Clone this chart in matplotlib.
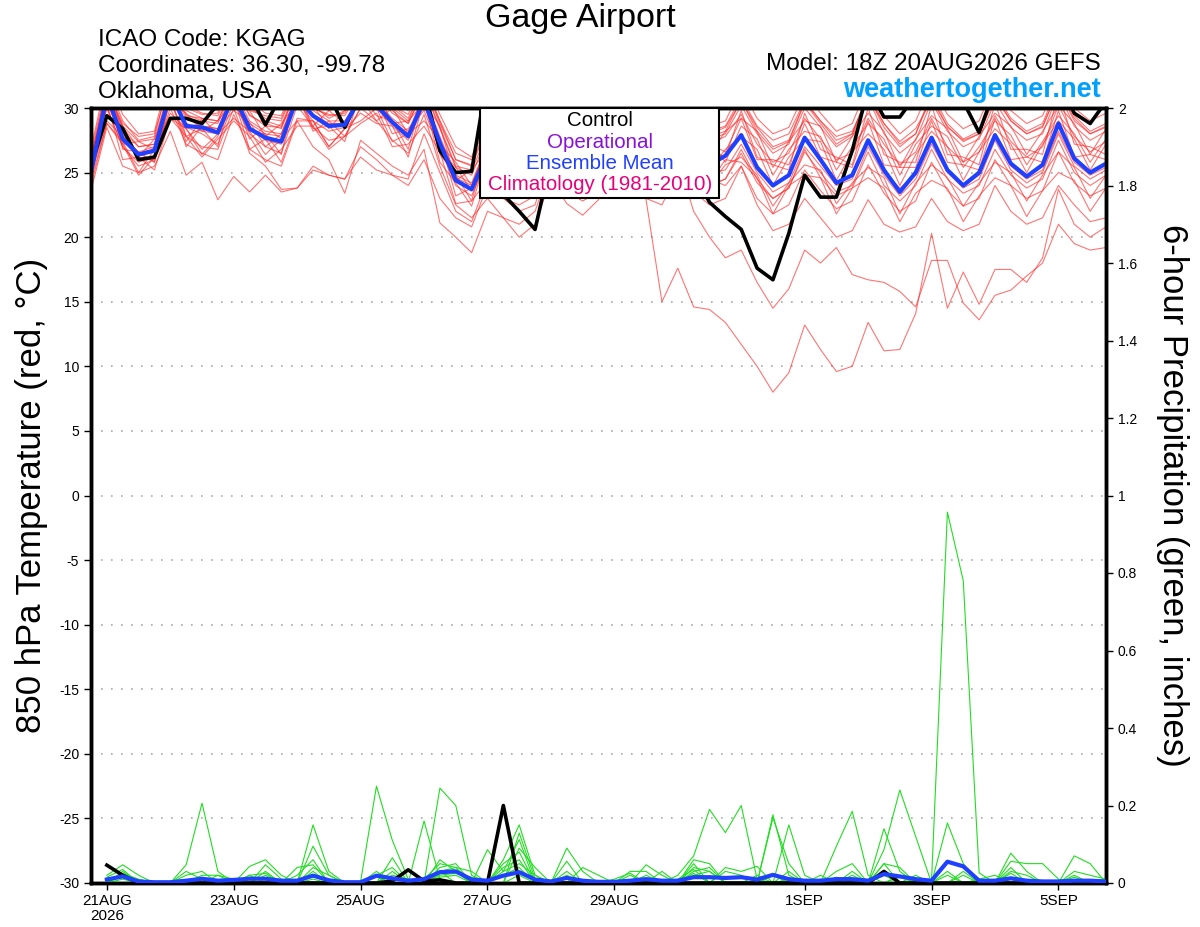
import numpy as np
import matplotlib
matplotlib.use("Agg")
import matplotlib.pyplot as plt
from matplotlib.patches import Rectangle

plt.rcParams['font.family'] = ['Liberation Sans', 'DejaVu Sans']

# time axis: 6-hourly from 18Z 20AUG (days after 21AUG 00Z)
days = np.arange(65) * 0.25 - 0.25
tick_pos = [0, 2, 4, 6, 8, 11, 13, 15]
tick_lab = ['21AUG\n2026', '23AUG', '25AUG', '27AUG', '29AUG', '1SEP', '3SEP', '5SEP']

# 850 hPa temperature (C)
t_mean = [25.0, 31.0, 27.6, 26.4, 26.7, 31.2, 28.6, 28.5, 28.1, 31.0, 28.4, 27.7, 27.4, 30.8, 29.4, 28.6,
          28.7, 30.8, 30.2, 28.9, 27.8, 30.6, 27.3, 24.4, 23.7, 26.5, 25.5, 24.8, 25.0, 28.5, 26.5, 25.5,
          26.0, 30.0, 27.5, 26.0, 25.5, 28.0, 26.5, 25.6, 26.3, 27.9, 25.4, 24.0, 24.8, 27.7, 26.0, 24.2,
          24.8, 27.5, 25.2, 23.5, 25.0, 27.7, 25.2, 24.0, 25.0, 27.9, 25.7, 24.7, 25.6, 28.8, 26.1, 25.0, 25.7]
t_ctrl = [25.5, 29.4, 28.4, 26.0, 26.2, 29.2, 29.2, 28.8, 30.3, 31.5, 31.0, 28.7, 31.0, 31.5, 30.5, 31.0,
          28.5, 31.0, 31.5, 31.0, 30.5, 31.5, 26.7, 25.0, 25.1, 32.5, 23.3, 22.0, 20.6, 26.0, 27.0, 26.0,
          26.5, 29.5, 27.5, 26.0, 25.5, 27.5, 25.0, 22.7, 21.6, 20.6, 17.6, 16.7, 20.3, 24.8, 23.1, 23.1,
          26.7, 31.5, 29.3, 29.3, 31.0, 32.0, 31.0, 30.5, 28.1, 31.5, 31.0, 30.5, 31.0, 32.0, 29.6, 28.8, 30.5]

r01 = [26.5, 32.0, 29.0, 27.5, 27.8, 32.5, 30.0, 29.5, 29.6, 32.4, 30.0, 29.2, 29.0, 32.0, 30.5, 29.8, 30.2, 32.2, 31.5, 30.2, 29.5, 32.0, 29.0, 26.5, 26.0, 29.0, 27.5, 26.8, 27.2, 31.0, 29.0, 28.0, 28.5, 32.0, 30.0, 28.5, 28.0, 30.5, 29.0, 28.0, 28.5, 30.5, 28.5, 27.0, 27.5, 30.5, 29.0, 27.5, 28.0, 31.0, 28.5, 27.0, 28.0, 31.0, 28.5, 27.5, 28.0, 31.0, 29.0, 28.0, 28.5, 31.5, 29.0, 28.0, 28.5]
r02 = [25.8, 31.5, 28.5, 27.0, 27.2, 31.8, 29.5, 29.0, 28.8, 31.5, 29.5, 28.6, 28.5, 31.5, 30.0, 29.5, 29.4, 31.5, 31.0, 29.8, 28.8, 31.5, 28.5, 25.5, 25.2, 28.0, 27.0, 26.0, 26.5, 30.0, 28.0, 27.2, 27.8, 31.5, 29.5, 28.2, 27.5, 30.0, 28.4, 27.6, 28.0, 30.2, 28.0, 26.5, 27.2, 30.0, 28.5, 27.0, 27.8, 30.8, 28.0, 26.5, 27.5, 30.5, 28.2, 27.0, 27.6, 30.5, 28.5, 27.5, 28.0, 31.2, 28.6, 27.5, 28.2]
r03 = [25.2, 31.6, 28.6, 26.2, 27.6, 30.4, 29.6, 28.2, 29.0, 30.6, 29.8, 27.8, 28.8, 30.4, 30.2, 28.4, 29.8, 30.6, 31.4, 28.8, 29.0, 30.4, 28.6, 24.4, 25.2, 26.8, 27.0, 25.2, 26.6, 28.8, 28.0, 26.2, 27.8, 30.4, 29.6, 27.2, 27.8, 29.2, 28.6, 26.4, 28.2, 29.2, 28.2, 25.4, 27.4, 29.0, 28.6, 25.8, 27.8, 29.6, 28.2, 25.4, 27.6, 29.4, 28.4, 25.8, 27.8, 29.6, 28.6, 26.4, 28.2, 30.2, 28.8, 26.4, 28.4]
r04 = [26.0, 31.8, 28.2, 26.2, 26.0, 32.0, 29.8, 29.2, 29.0, 32.0, 30.2, 29.0, 28.6, 31.8, 30.2, 29.2, 29.8, 31.8, 31.2, 30.0, 29.0, 31.8, 28.8, 26.0, 25.5, 28.5, 27.2, 26.5, 26.8, 30.5, 28.5, 27.5, 28.0, 31.8, 29.8, 28.5, 27.8, 30.2, 28.8, 27.8, 28.2, 30.6, 28.2, 26.8, 27.4, 30.4, 28.8, 27.2, 28.0, 31.2, 28.8, 27.2, 28.0, 31.2, 28.8, 27.6, 28.2, 31.2, 29.2, 28.2, 28.8, 31.8, 29.4, 28.2, 28.8]
r05 = [24.8, 29.0, 27.8, 26.5, 25.8, 30.8, 27.0, 28.6, 28.4, 29.8, 28.9, 27.0, 28.0, 31.0, 28.2, 29.0, 27.8, 30.0, 30.6, 28.0, 28.4, 29.8, 26.8, 25.4, 23.6, 27.5, 25.4, 26.0, 25.0, 29.6, 26.4, 27.0, 26.0, 30.8, 27.8, 28.2, 26.0, 29.6, 26.8, 27.4, 25.8, 28.6, 27.6, 24.8, 26.8, 28.2, 27.8, 25.2, 27.0, 28.8, 27.6, 24.8, 27.2, 28.6, 27.8, 25.4, 27.0, 29.0, 27.9, 25.6, 27.4, 29.4, 28.0, 25.8, 27.6]
r06 = [24.5, 30.4, 26.0, 26.2, 25.2, 29.2, 28.4, 26.4, 27.8, 30.8, 26.8, 27.6, 25.8, 29.2, 29.0, 27.0, 28.4, 29.6, 28.8, 28.6, 26.2, 30.6, 25.8, 24.2, 22.4, 26.6, 24.6, 24.8, 24.0, 28.8, 25.6, 25.8, 25.2, 28.8, 28.2, 25.4, 26.6, 27.8, 27.4, 25.2, 26.8, 27.8, 26.8, 24.0, 26.2, 27.6, 27.4, 24.4, 26.6, 28.0, 26.8, 24.0, 26.4, 28.2, 27.0, 24.4, 26.6, 28.4, 27.2, 25.0, 27.2, 29.0, 27.6, 25.2, 27.2]
r07 = [23.6, 28.5, 25.5, 25.0, 25.5, 28.2, 24.8, 25.8, 22.9, 24.7, 23.5, 24.8, 23.5, 23.8, 25.2, 24.8, 24.5, 26.2, 25.2, 24.8, 24.0, 26.0, 23.0, 21.5, 20.8, 24.0, 23.0, 22.5, 23.2, 27.0, 25.0, 24.2, 24.8, 28.5, 26.5, 25.5, 25.0, 27.5, 26.0, 25.0, 25.2, 27.2, 25.0, 23.5, 24.2, 27.0, 25.5, 24.0, 24.5, 27.5, 25.0, 23.8, 24.8, 27.5, 25.2, 24.0, 24.8, 27.8, 25.5, 24.5, 25.2, 28.2, 25.8, 24.8, 25.4]
r08 = [25.5, 30.0, 27.0, 25.8, 26.2, 30.0, 27.2, 26.5, 26.0, 29.5, 26.8, 26.0, 25.5, 29.0, 27.0, 26.0, 23.4, 27.5, 26.5, 25.5, 24.8, 26.8, 21.1, 20.0, 18.8, 22.0, 21.5, 21.0, 22.0, 25.5, 23.5, 22.8, 23.5, 27.0, 25.0, 24.0, 23.5, 26.5, 25.0, 24.0, 24.5, 26.8, 24.5, 23.0, 23.8, 26.6, 25.0, 23.5, 24.0, 27.0, 24.8, 23.2, 24.5, 27.2, 25.0, 23.8, 24.5, 27.5, 25.2, 24.2, 25.0, 28.0, 25.5, 24.5, 25.2]
r09 = [26.2, 31.0, 28.0, 26.5, 26.8, 31.0, 28.5, 28.0, 27.2, 30.5, 28.0, 27.0, 26.5, 30.2, 28.5, 27.5, 27.8, 30.0, 29.0, 27.5, 26.5, 29.5, 25.5, 22.5, 21.5, 23.0, 21.5, 20.0, 21.0, 24.5, 22.6, 21.7, 22.9, 26.0, 24.0, 23.0, 22.5, 25.0, 23.5, 22.5, 23.0, 25.5, 23.0, 21.8, 22.5, 25.2, 23.6, 22.2, 22.8, 25.6, 23.4, 22.0, 22.8, 25.8, 23.6, 22.4, 23.0, 26.0, 24.0, 23.0, 23.6, 26.6, 24.2, 23.2, 23.8]
r10 = [25.0, 30.5, 27.5, 26.5, 26.8, 31.0, 28.8, 28.2, 28.0, 31.0, 28.5, 27.5, 27.2, 30.5, 29.0, 28.2, 28.5, 30.8, 30.0, 28.6, 27.5, 30.2, 27.0, 24.0, 23.2, 26.0, 25.0, 24.0, 24.5, 28.0, 26.0, 25.0, 25.5, 29.0, 26.5, 22.9, 15.0, 17.6, 14.6, 14.4, 13.4, 11.7, 10.0, 8.0, 9.5, 13.2, 11.3, 9.6, 10.0, 13.4, 11.2, 11.3, 14.1, 20.3, 14.5, 17.3, 14.8, 17.5, 17.5, 16.5, 18.4, 23.7, 21.0, 20.0, 20.8]
r11 = [25.8, 31.2, 28.2, 27.0, 27.2, 31.5, 29.2, 28.6, 28.4, 31.4, 29.0, 28.2, 28.0, 31.2, 29.8, 29.0, 29.0, 31.0, 30.5, 29.2, 28.2, 31.0, 27.8, 24.8, 24.2, 27.2, 26.2, 25.5, 25.8, 29.2, 27.0, 26.0, 26.5, 30.0, 28.0, 26.5, 24.0, 26.0, 22.0, 20.0, 18.4, 19.0, 16.5, 14.5, 16.0, 19.0, 18.0, 19.2, 17.1, 16.7, 16.5, 15.8, 14.6, 18.2, 18.2, 14.9, 13.6, 15.5, 15.9, 17.0, 18.0, 21.0, 19.5, 19.0, 19.2]
r12 = [25.4, 30.8, 27.8, 26.6, 27.0, 31.2, 28.8, 28.4, 28.2, 31.0, 28.8, 28.0, 27.8, 31.0, 29.5, 28.8, 28.8, 31.0, 30.4, 29.0, 28.0, 30.8, 27.5, 24.6, 24.0, 27.0, 26.0, 25.2, 25.5, 29.0, 26.8, 25.8, 26.2, 29.8, 27.5, 26.2, 25.8, 28.2, 26.0, 24.5, 24.0, 25.5, 22.5, 20.5, 21.0, 23.0, 21.5, 20.0, 20.5, 22.9, 21.0, 20.4, 20.8, 23.0, 21.2, 20.5, 21.0, 24.0, 22.0, 21.0, 21.5, 24.0, 22.5, 21.2, 21.5]
r13 = [24.0, 28.8, 27.2, 24.8, 26.2, 29.2, 27.8, 26.2, 27.6, 29.0, 27.8, 25.8, 26.8, 28.6, 28.6, 26.8, 27.8, 28.8, 29.6, 27.0, 27.2, 28.6, 26.6, 22.6, 22.8, 24.4, 24.8, 23.0, 24.4, 27.0, 26.2, 24.0, 25.6, 28.2, 27.2, 24.4, 25.2, 26.4, 26.2, 24.0, 25.6, 26.2, 24.8, 22.4, 24.2, 25.6, 25.2, 22.6, 24.2, 25.4, 24.6, 21.8, 24.2, 25.6, 24.6, 22.4, 24.2, 25.8, 25.0, 22.8, 24.8, 26.6, 25.4, 23.0, 24.8]
r14 = [25.6, 31.0, 28.6, 27.4, 27.6, 31.6, 29.4, 29.2, 29.0, 31.8, 29.4, 28.8, 28.4, 31.6, 30.0, 29.4, 29.6, 31.6, 31.0, 29.6, 28.8, 31.4, 28.4, 25.4, 24.8, 27.8, 26.8, 26.2, 26.4, 30.2, 28.2, 27.2, 27.6, 31.2, 29.2, 28.0, 27.5, 29.8, 28.2, 27.2, 27.8, 29.5, 27.2, 25.8, 26.5, 29.2, 27.6, 26.0, 26.5, 29.2, 27.2, 25.6, 26.6, 29.2, 27.0, 25.8, 26.6, 29.4, 27.4, 26.2, 27.0, 30.2, 27.8, 26.6, 27.4]
r15 = [26.8, 32.5, 29.5, 28.0, 28.2, 33.0, 30.5, 30.0, 29.8, 32.8, 30.5, 29.6, 29.4, 32.5, 31.0, 30.2, 30.5, 32.5, 32.0, 30.5, 29.8, 32.2, 29.5, 27.0, 26.2, 29.5, 28.2, 27.5, 28.0, 31.5, 29.5, 28.5, 29.0, 32.5, 30.5, 29.2, 28.8, 31.2, 29.5, 28.6, 29.0, 31.5, 29.2, 28.0, 28.5, 31.2, 29.6, 28.2, 28.8, 31.8, 29.4, 28.0, 29.0, 31.8, 29.5, 28.4, 29.0, 32.0, 29.8, 28.8, 29.4, 32.2, 30.0, 29.0, 29.6]
r16 = [25.2, 30.6, 27.2, 27.4, 26.8, 30.8, 27.4, 29.2, 28.0, 31.0, 27.6, 28.6, 27.6, 30.8, 28.6, 29.8, 28.8, 30.8, 29.0, 30.0, 28.0, 30.6, 27.2, 25.8, 24.0, 27.4, 25.8, 26.4, 25.6, 29.2, 26.6, 27.0, 26.2, 29.8, 27.4, 27.6, 26.0, 29.4, 27.0, 27.2, 26.6, 29.2, 26.0, 26.0, 25.6, 28.8, 26.2, 25.8, 25.4, 29.0, 25.6, 25.4, 25.4, 29.0, 25.8, 25.6, 25.2, 29.2, 26.0, 26.2, 25.8, 29.8, 26.2, 26.4, 26.0]
r17 = [25.0, 30.0, 27.0, 25.5, 26.0, 30.5, 27.8, 27.0, 26.8, 30.0, 26.5, 25.5, 23.7, 23.8, 25.5, 24.8, 24.5, 27.0, 26.0, 24.8, 24.5, 28.0, 25.0, 22.0, 21.2, 24.5, 23.0, 22.0, 22.5, 26.5, 24.5, 23.5, 24.2, 28.0, 26.0, 24.5, 24.0, 26.8, 25.0, 24.0, 24.5, 26.5, 24.2, 23.0, 23.8, 26.8, 24.6, 23.2, 23.8, 26.6, 24.0, 22.8, 24.0, 26.8, 24.5, 23.4, 24.0, 26.8, 24.8, 23.8, 24.5, 27.5, 25.0, 24.0, 24.8]
r18 = [26.2, 31.5, 28.8, 27.8, 28.0, 32.2, 30.2, 29.6, 29.4, 32.2, 29.8, 29.4, 29.2, 32.0, 30.6, 30.0, 30.0, 32.0, 31.6, 30.2, 29.2, 31.8, 29.0, 26.0, 25.6, 28.8, 27.8, 27.0, 27.5, 31.0, 29.2, 28.2, 28.6, 32.0, 30.0, 28.8, 28.4, 30.8, 29.2, 28.2, 28.6, 30.8, 28.6, 27.5, 28.0, 30.6, 29.0, 27.8, 28.2, 30.8, 28.8, 27.4, 28.4, 30.6, 28.6, 27.4, 28.0, 30.8, 29.0, 28.0, 28.6, 31.4, 29.2, 28.0, 28.6]
r19 = [24.4, 28.8, 27.4, 25.0, 26.8, 29.6, 28.4, 26.8, 28.0, 29.2, 28.2, 26.4, 27.6, 29.0, 29.0, 27.0, 28.4, 29.0, 30.0, 27.4, 28.0, 29.0, 27.6, 23.2, 23.8, 25.4, 25.8, 23.8, 25.6, 27.2, 26.8, 24.6, 26.4, 28.2, 28.0, 25.2, 26.0, 26.8, 26.6, 24.2, 26.0, 25.8, 24.6, 21.8, 24.0, 24.8, 24.6, 21.8, 23.8, 24.6, 23.8, 21.2, 23.4, 24.4, 23.8, 21.2, 23.2, 24.6, 24.0, 21.6, 23.6, 25.0, 24.4, 22.0, 23.8]
r20 = [25.5, 31.8, 26.8, 26.6, 25.8, 31.8, 27.8, 28.4, 27.0, 31.6, 28.2, 28.0, 26.4, 31.6, 28.4, 28.6, 27.4, 31.2, 29.4, 29.0, 26.8, 31.2, 26.4, 24.8, 22.8, 27.2, 24.8, 25.4, 24.6, 29.4, 26.2, 26.4, 25.4, 30.8, 27.6, 27.4, 25.6, 29.6, 26.6, 26.8, 26.2, 29.8, 26.2, 25.6, 25.2, 29.6, 26.8, 26.2, 25.6, 30.0, 26.4, 25.8, 25.8, 30.2, 26.4, 26.2, 25.6, 30.4, 26.8, 26.8, 26.4, 31.2, 27.2, 27.0, 26.4]
red_members = [r01, r02, r03, r04, r05, r06, r07, r08, r09, r10,
               r11, r12, r13, r14, r15, r16, r17, r18, r19, r20]

# 6-hour precipitation (inches), valid from 21AUG 00Z on
p_mean = [.009, .017, .004, .002, .002, .006, .011, .006, .008, .011, .011, .006, .006, .019, .007, .002,
          .002, .019, .012, .006, .010, .028, .030, .009, .006, .019, .028, .009, .004, .013, .006, .003,
          .003, .006, .010, .006, .006, .015, .015, .013, .015, .009, .021, .010, .006, .006, .010, .010,
          .006, .023, .017, .010, .006, .055, .043, .006, .006, .012, .006, .004, .004, .006, .006, .004]
p_ctrl = [.046, .020, 0, 0, 0, 0, 0, 0, 0, 0, 0, 0, 0, 0, 0, 0,
          0, 0, .005, .034, .005, .008, 0, 0, 0, .200, 0, 0, 0, 0, 0, 0,
          0, 0, 0, 0, 0, 0, 0, 0, 0, 0, 0, 0, 0, 0, 0, 0,
          0, .030, 0, 0, 0, 0, 0, 0, 0, 0, 0, 0, 0, 0, 0, 0]

g01 = [.02, .047, .02, 0, 0, .047, .206, .03, 0, 0, 0, 0, 0, 0, 0, 0,
       0, 0, 0, 0, 0, .06, .03, 0, 0, 0, 0, 0, 0, 0, 0, 0,
       0, 0, 0, 0, .02, .07, .19, .13, .20, .01, 0, 0, 0, 0, 0, 0,
       0, 0, 0, 0, 0, 0, 0, 0, 0, .077, .03, 0, 0, 0, 0, 0]
g02 = [0, .03, 0, 0, 0, 0, 0, 0, 0, 0, 0, 0, 0, .15, .03, 0,
       .004, .25, .11, .01, 0, 0, 0, 0, 0, .06, .15, .02, 0, 0, 0, 0,
       0, 0, 0, 0, 0, 0, 0, 0, 0, 0, .176, .02, 0, 0, 0, 0,
       0, 0, 0, 0, .008, .957, .78, .026, 0, 0, 0, 0, 0, 0, 0, 0]
g03 = [0, 0, 0, 0, 0, 0, 0, 0, 0, .043, .06, .02, 0, .095, .02, 0,
       0, 0, 0, 0, .16, .01, 0, 0, 0, 0, 0, 0, 0, .09, .03, 0,
       0, 0, 0, 0, 0, 0, 0, 0, 0, 0, 0, .15, .02, 0, 0, 0,
       0, .086, .24, .12, 0, 0, 0, 0, 0, 0, 0, 0, 0, 0, 0, 0]
g04 = [0, 0, 0, 0, 0, 0, 0, 0, 0, 0, 0, 0, .04, .047, 0, 0,
       0, 0, .065, 0, 0, .245, .20, .02, 0, 0, .129, .01, 0, 0, 0, 0,
       0, 0, 0, 0, 0, 0, 0, 0, 0, 0, 0, 0, 0, 0, .095, .185,
       .02, 0, 0, 0, 0, 0, 0, 0, 0, 0, 0, 0, 0, .07, .05, 0]
g05 = [.015, .035, 0, 0, 0, 0, 0, 0, 0, 0, .047, .01, 0, 0, 0, 0,
       0, 0, 0, 0, 0, 0, 0, 0, .086, .03, .112, 0, 0, .056, 0, 0,
       0, 0, 0, 0, 0, 0, 0, 0, 0, 0, .168, .05, 0, 0, 0, 0,
       0, .14, .03, 0, 0, .155, .05, 0, 0, 0, 0, 0, 0, 0, 0, 0]
g06 = [0, 0, 0, 0, 0, .02, .03, 0, 0, .02, 0, 0, 0, .03, 0, 0,
       0, .03, 0, 0, 0, .04, .05, 0, 0, .04, .06, 0, 0, 0, 0, 0,
       0, 0, .047, .02, 0, .06, .05, 0, 0, 0, 0, 0, 0, 0, 0, 0,
       0, .05, .04, 0, 0, 0, 0, 0, 0, .056, .05, .05, .01, 0, 0, 0]
g07 = [0, .025, .01, 0, 0, 0, 0, .02, .01, 0, .03, 0, 0, .04, .02, 0,
       0, 0, .03, 0, 0, .03, .04, .03, 0, 0, .09, .04, 0, 0, .04, .02,
       0, .03, .03, 0, 0, .05, 0, .04, .03, .043, 0, 0, 0, 0, .03, .05,
       0, 0, 0, .02, 0, 0, .03, 0, 0, .04, 0, 0, 0, .02, 0, 0]
g08 = [0, .02, 0, 0, 0, .03, .01, 0, 0, .02, .025, 0, .02, .06, 0, 0,
       0, .02, .04, 0, .01, .05, .04, 0, 0, .05, .08, 0, 0, .03, 0, 0,
       .01, .025, 0, .03, 0, .03, .04, 0, 0, .02, 0, .03, 0, .02, 0, .03,
       0, .05, 0, 0, 0, .02, 0, 0, 0, .03, .02, 0, 0, 0, 0, 0]
g09 = [.01, .015, 0, 0, 0, 0, .015, 0, 0, 0, .02, 0, 0, .02, 0, 0,
       0, .015, 0, 0, 0, .025, .03, 0, 0, .02, .04, 0, 0, .02, 0, 0,
       0, 0, .02, 0, .01, .035, 0, 0, 0, 0, .02, 0, 0, 0, .015, 0,
       0, 0, .02, 0, 0, 0, .02, 0, 0, .025, 0, 0, 0, .015, 0, 0]
g10 = [0, 0, .005, 0, 0, 0, 0, 0, 0, 0, 0, 0, 0, .01, 0, 0,
       0, 0, 0, 0, 0, .015, .02, 0, 0, 0, .02, 0, 0, 0, 0, 0,
       0, 0, 0, 0, 0, .02, .03, 0, 0, 0, 0, 0, 0, 0, 0, 0,
       0, .02, 0, 0, 0, 0, 0, 0, 0, .01, 0, 0, 0, 0, 0, 0]
g11 = [0, .01, 0, 0, 0, 0, .02, .02, 0, .015, .01, 0, 0, 0, 0, 0,
       0, 0, .02, .01, 0, .03, 0, 0, 0, .03, .05, .02, 0, 0, 0, 0,
       0, .02, 0, 0, 0, .025, 0, .03, .02, 0, 0, 0, 0, .01, 0, 0,
       0, 0, .015, 0, 0, 0, 0, .01, .02, 0, 0, 0, 0, .03, .02, .01]
g12 = [.005, 0, 0, 0, 0, 0, 0, 0, 0, 0, 0, 0, 0, .02, .01, 0,
       0, 0, 0, 0, 0, .02, .025, .015, 0, 0, 0, 0, 0, .015, 0, 0,
       0, 0, 0, 0, 0, .04, .03, 0, 0, 0, 0, .01, 0, 0, 0, .02,
       0, .03, 0, 0, 0, .03, 0, 0, 0, .015, 0, 0, 0, 0, 0, 0]
green_members = [g01, g02, g03, g04, g05, g06, g07, g08, g09, g10, g11, g12]

W, H = 1200, 927
fig = plt.figure(figsize=(12, 9.27), dpi=100)
ax = fig.add_axes([91 / W, 44 / H, 1015 / W, 775 / H])
ax2 = ax.twinx()

for m in red_members:
    ax.plot(days, m, color='#ff2a2a', lw=0.8, alpha=0.65, zorder=2)
ax.plot(days, t_ctrl, color='black', lw=2.6, zorder=4)
ax.plot(days, t_mean, color='#2040ff', lw=3.0, zorder=5)

pdays = days[1:]
for g in green_members:
    ax2.plot(pdays, g, color='#22dd22', lw=0.8, zorder=2)
ax2.plot(pdays, p_ctrl, color='black', lw=2.6, zorder=4)
ax2.plot(pdays, p_mean, color='#2040ff', lw=3.0, zorder=5)

ax.set_xlim(days[0], days[-1])
ax.set_ylim(-30, 30)
ax.set_yticks(np.arange(-30, 31, 5))
ax.set_yticklabels([str(v) for v in range(-30, 31, 5)])
for v in range(-25, 30, 5):
    ax.axhline(v, color='#aaaaaa', lw=1.2, ls=(0, (1, 5)), zorder=1)
ax.set_xticks(tick_pos)
ax.set_xticklabels(tick_lab, fontsize=11, linespacing=1.1)
ax.tick_params(axis='y', labelsize=10, direction='out', length=5, width=1)
ax.tick_params(axis='x', direction='out', length=5, width=1, pad=3)

ax2.set_ylim(0, 2)
ax2.set_yticks(np.arange(0, 2.01, 0.2))
ax2.set_yticklabels(['0', '0.2', '0.4', '0.6', '0.8', '1', '1.2', '1.4', '1.6', '1.8', '2'])
ax2.tick_params(axis='y', labelsize=10, direction='out', length=5, width=1)

for a in (ax, ax2):
    for s in a.spines.values():
        s.set_linewidth(2.5)

fig.text(32 / W, 1 - 495 / H, '850 hPa Temperature (red, °C)', fontsize=25,
         rotation=90, ha='center', va='center')
fig.text(1172 / W, 1 - 495 / H, '6-hour Precipitation (green, inches)', fontsize=25,
         rotation=270, ha='center', va='center')

# legend box
ax2.add_patch(Rectangle((480 / W, 1 - 198 / H), 239 / W, 90 / H, transform=fig.transFigure,
                        facecolor='white', edgecolor='black', lw=1.5, zorder=10, clip_on=False))
leg = [('Control', 'black'), ('Operational', '#8a10d8'),
       ('Ensemble Mean', '#2040ff'), ('Climatology (1981-2010)', '#e8007a')]
for k, (txt, col) in enumerate(leg):
    fig.text(600 / W, 1 - (121 + 21.3 * k) / H, txt, color=col, fontsize=14.8,
             ha='center', va='center', zorder=11)

fig.text(580 / W, 1 - 18 / H, 'Gage Airport', fontsize=24.5, ha='center', va='center')
fig.text(98 / W, 1 - 40 / H, 'ICAO Code: KGAG', fontsize=17.5, ha='left', va='center')
fig.text(98 / W, 1 - 66 / H, 'Coordinates: 36.30, -99.78', fontsize=17.5, ha='left', va='center')
fig.text(98 / W, 1 - 92 / H, 'Oklahoma, USA', fontsize=17.5, ha='left', va='center')
fig.text(1101 / W, 1 - 64 / H, 'Model: 18Z 20AUG2026 GEFS', fontsize=17.5, ha='right', va='center')
fig.text(1101 / W, 1 - 90 / H, 'weathertogether.net', fontsize=19.5, fontweight='bold',
         color='#00a0ff', ha='right', va='center')

fig.savefig('out.png', dpi=100)
